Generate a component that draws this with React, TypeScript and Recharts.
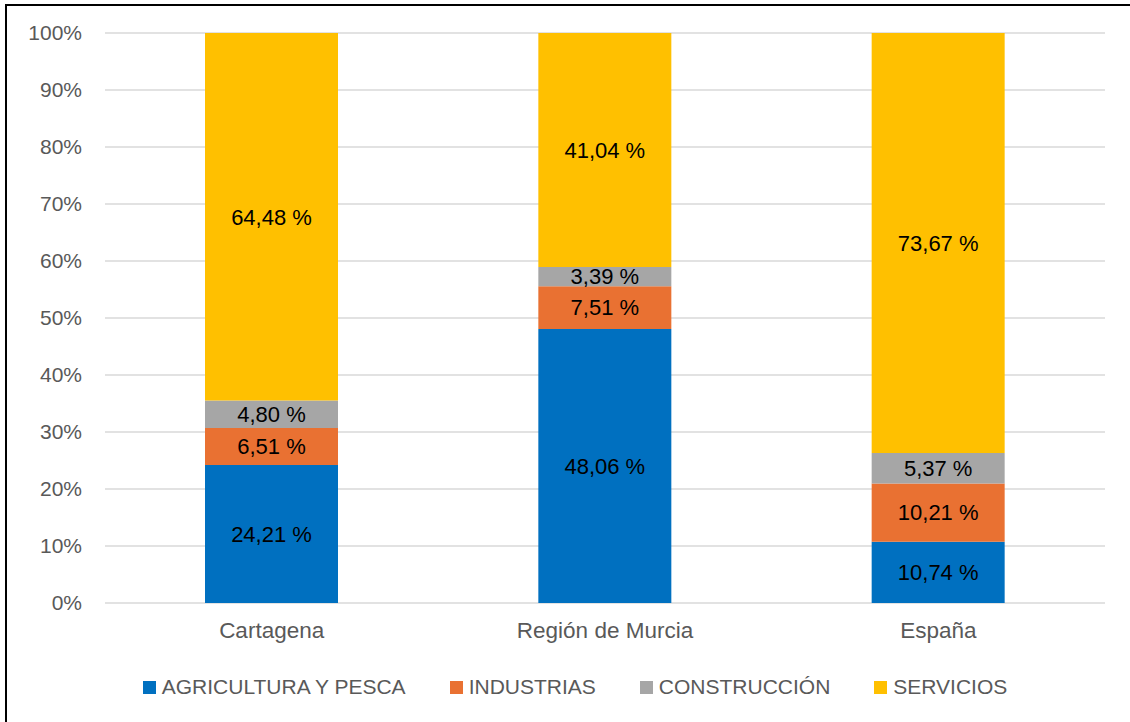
import React from 'react';
import { BarChart, Bar, XAxis, YAxis, CartesianGrid, Legend, LabelList } from 'recharts';

const categories = ['Cartagena', 'Región de Murcia', 'España'];
const agricultura = [24.21, 48.06, 10.74];
const industrias = [6.51, 7.51, 10.21];
const construccion = [4.8, 3.39, 5.37];
const servicios = [64.48, 41.04, 73.67];
const yTicks = [0, 10, 20, 30, 40, 50, 60, 70, 80, 90, 100];

const seriesDefs = [
  { key: 'agricultura', name: 'AGRICULTURA Y PESCA', color: '#0070C0' },
  { key: 'industrias', name: 'INDUSTRIAS', color: '#E97132' },
  { key: 'construccion', name: 'CONSTRUCCIÓN', color: '#A6A6A6' },
  { key: 'servicios', name: 'SERVICIOS', color: '#FFC000' },
];

const data = categories.map((c, i) => ({
  name: c,
  agricultura: agricultura[i],
  industrias: industrias[i],
  construccion: construccion[i],
  servicios: servicios[i],
}));

const FONT = '"Liberation Sans", Arial, sans-serif';

const fmt = (v: any) => Number(v).toFixed(2).replace('.', ',') + ' %';

const LegendContent = () => (
  <div style={{ height: 0, overflow: 'visible' }}>
    <div
      style={{
        display: 'flex',
        justifyContent: 'center',
        alignItems: 'center',
        gap: 44,
        fontFamily: FONT,
        fontSize: 21,
        color: '#595959',
        whiteSpace: 'nowrap',
      }}
    >
      {seriesDefs.map((s) => (
        <div key={s.key} style={{ display: 'flex', alignItems: 'center' }}>
          <span style={{ display: 'inline-block', width: 13, height: 13, background: s.color, marginRight: 6 }} />
          <span>{s.name}</span>
        </div>
      ))}
    </div>
  </div>
);

export default function App() {
  return (
    <div style={{ position: 'fixed', left: 0, top: 0, width: 1130, height: 722, overflow: 'hidden', background: '#fff' }}>
      <div
        style={{
          position: 'absolute',
          left: 5,
          top: 4,
          width: 1160,
          height: 760,
          border: '2px solid #000',
          boxSizing: 'border-box',
        }}
      />
      <BarChart
        width={1130}
        height={722}
        data={data}
        margin={{ top: 33, right: 25, left: 0, bottom: 89 }}
        barCategoryGap="30%"
        style={{ position: 'absolute', left: 0, top: 0 }}
      >
        <CartesianGrid vertical={false} stroke="#D9D9D9" strokeWidth={1.5} />
        <XAxis
          dataKey="name"
          axisLine={false}
          tickLine={false}
          tickSize={0}
          tickMargin={19}
          height={30}
          tick={{ fill: '#595959', fontSize: 22.5, fontFamily: FONT }}
        />
        <YAxis
          width={105}
          domain={[0, 100]}
          ticks={yTicks}
          interval={0}
          axisLine={false}
          tickLine={false}
          tickSize={0}
          tickMargin={23}
          tickFormatter={(v: number) => v + '%'}
          tick={{ fill: '#595959', fontSize: 21, fontFamily: FONT }}
        />
        <Legend
          content={<LegendContent />}
          wrapperStyle={{ position: 'absolute', left: 0, top: 675, width: 1150, height: 0 }}
        />
        {seriesDefs.map((s) => (
          <Bar key={s.key} dataKey={s.key} name={s.name} stackId="a" fill={s.color} isAnimationActive={false}>
            <LabelList
              dataKey={s.key}
              position="center"
              formatter={fmt}
              style={{ fill: '#000', fontSize: 22, fontFamily: FONT }}
            />
          </Bar>
        ))}
      </BarChart>
    </div>
  );
}
